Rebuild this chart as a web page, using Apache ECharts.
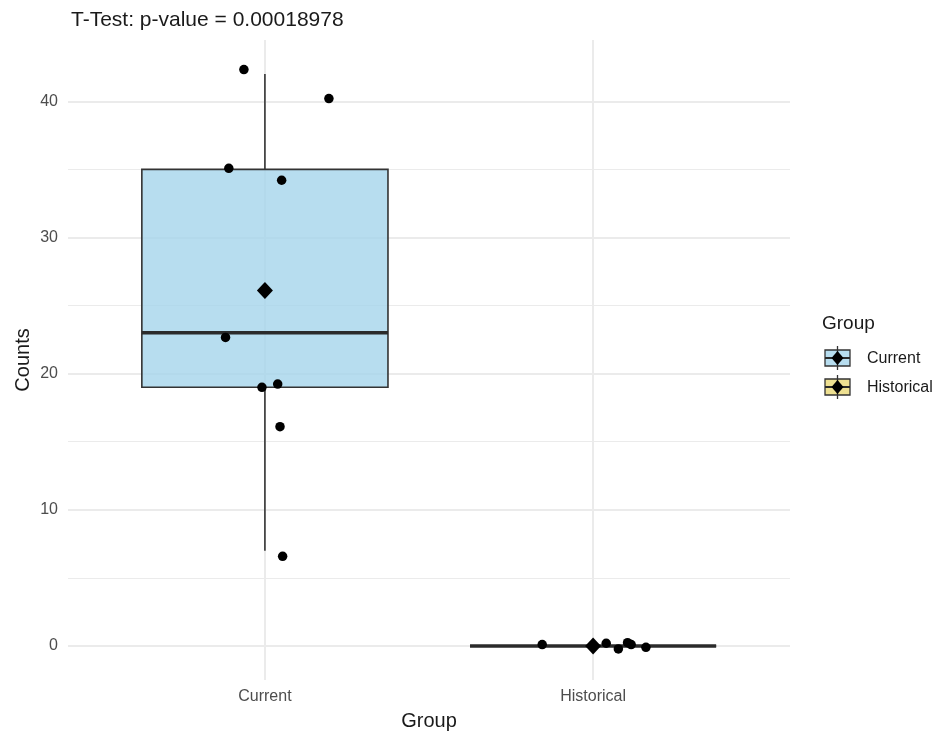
<!DOCTYPE html>
<html>
<head>
<meta charset="utf-8">
<script src="https://cdn.jsdelivr.net/npm/echarts@6/dist/echarts.min.js"></script>
<style>
  html, body { margin: 0; padding: 0; background: #ffffff; }
  #chart { width: 937px; height: 736px; }
</style>
</head>
<body>
<div id="chart"></div>
<script>
// Groups and their positions on the x scale
const groups = ['Current', 'Historical'];
const groupPos = [1, 2];

// Box summaries per group
const boxMin = [7, 0];
const boxQ1 = [19, 0];
const boxMedian = [23, 0];
const boxQ3 = [35, 0];
const boxMax = [42, 0];
const groupMean = [26.1, 0];

// Jittered observations
const currentX = [0.936, 1.195, 0.890, 1.051, 0.880, 0.991, 1.039, 1.046, 1.054];
const currentY = [42.33, 40.2, 35.08, 34.2, 22.66, 18.99, 19.23, 16.1, 6.58];
const historicalX = [1.845, 2.040, 2.077, 2.105, 2.116, 2.161];
const historicalY = [0.10, 0.20, -0.22, 0.24, 0.10, -0.10];

// Minor horizontal grid positions
const yMinor = [5, 15, 25, 35];

const titleText = 'T-Test: p-value = 0.00018978';

// ---- styling ----
const FONT = '"Liberation Sans", Arial, Helvetica, sans-serif';
const boxFill = ['rgba(165,212,235,0.8)', 'rgba(234,216,118,0.8)'];
const GRID_COLOR = '#ebebeb';
const EDGE = '#333333';
const BOX_WIDTH = 0.75;

const boxData = groupPos.map((x, i) => [x, boxMin[i], boxQ1[i], boxMedian[i], boxQ3[i], boxMax[i]]);
const pointData = currentX.map((x, i) => [x, currentY[i]])
  .concat(historicalX.map((x, i) => [x, historicalY[i]]));
const meanData = groupPos.map((x, i) => [x, groupMean[i]]);

function renderBox(params, api) {
  const x = api.value(0);
  const lo = api.value(1), q1 = api.value(2), med = api.value(3), q3 = api.value(4), hi = api.value(5);
  const half = BOX_WIDTH / 2;
  const tl = api.coord([x - half, q3]);
  const br = api.coord([x + half, q1]);
  const mL = api.coord([x - half, med]);
  const mR = api.coord([x + half, med]);
  const pHi = api.coord([x, hi]);
  const pQ3 = api.coord([x, q3]);
  const pQ1 = api.coord([x, q1]);
  const pLo = api.coord([x, lo]);
  const thin = { stroke: EDGE, lineWidth: 1.6 };
  return {
    type: 'group',
    children: [
      { type: 'line', shape: { x1: pHi[0], y1: pHi[1], x2: pQ3[0], y2: pQ3[1] }, style: thin },
      { type: 'line', shape: { x1: pQ1[0], y1: pQ1[1], x2: pLo[0], y2: pLo[1] }, style: thin },
      {
        type: 'rect',
        shape: { x: tl[0], y: tl[1], width: br[0] - tl[0], height: br[1] - tl[1] },
        style: { fill: boxFill[params.dataIndex], stroke: EDGE, lineWidth: 1.6 }
      },
      { type: 'line', shape: { x1: mL[0], y1: mL[1], x2: mR[0], y2: mR[1] }, style: { stroke: '#2b2b2b', lineWidth: 3.4 } }
    ]
  };
}

// Legend keys drawn as miniature boxes
function legendKey(i) {
  const cy = 358 + 29 * i;
  return {
    type: 'group',
    x: 825,
    y: cy,
    children: [
      { type: 'rect', shape: { x: 0, y: -8, width: 25, height: 16 }, style: { fill: boxFill[i], stroke: EDGE, lineWidth: 1.3 } },
      { type: 'line', shape: { x1: 12.5, y1: -12, x2: 12.5, y2: 12 }, style: { stroke: EDGE, lineWidth: 1.3 } },
      { type: 'line', shape: { x1: 0, y1: 0, x2: 25, y2: 0 }, style: { stroke: '#2b2b2b', lineWidth: 2 } },
      { type: 'polygon', shape: { points: [[12.5, -7], [18.5, 0], [12.5, 7], [6.5, 0]] }, style: { fill: '#000' } },
      { type: 'text', x: 42, y: 1, style: { text: groups[i], font: '16px ' + FONT, fill: '#1a1a1a', verticalAlign: 'middle' } }
    ]
  };
}

const chart = echarts.init(document.getElementById('chart'), null, { renderer: 'canvas' });

chart.setOption({
  animation: false,
  backgroundColor: '#ffffff',
  title: {
    text: titleText,
    left: 66,
    top: 5,
    textStyle: { fontFamily: FONT, fontSize: 21, fontWeight: 'normal', color: '#1a1a1a' }
  },
  grid: { left: 68, right: 147, top: 40, bottom: 56, containLabel: false, outerBoundsMode: 'none' },
  xAxis: {
    type: 'value',
    min: 0.4,
    max: 2.6,
    name: 'Group',
    nameLocation: 'middle',
    nameGap: 31,
    nameTextStyle: { fontFamily: FONT, fontSize: 20, color: '#1a1a1a' },
    axisLine: { show: false },
    axisTick: { show: false },
    splitLine: { show: false },
    axisLabel: {
      margin: 9,
      fontFamily: FONT,
      fontSize: 16,
      color: '#4d4d4d',
      formatter: v => {
        const k = groupPos.indexOf(v);
        return k >= 0 ? groups[k] : '';
      }
    }
  },
  yAxis: {
    type: 'value',
    min: -2.5,
    max: 44.5,
    name: 'Counts',
    nameLocation: 'middle',
    nameGap: 35,
    nameMoveOverlap: false,
    nameTextStyle: { fontFamily: FONT, fontSize: 20, color: '#1a1a1a' },
    axisLine: { show: false },
    axisTick: { show: false },
    axisLabel: {
      margin: 10,
      fontFamily: FONT,
      fontSize: 16,
      color: '#4d4d4d',
      showMinLabel: false,
      showMaxLabel: false
    },
    splitLine: { show: true, showMinLine: false, showMaxLine: false, lineStyle: { color: GRID_COLOR, width: 2 } }
  },
  series: [
    {
      type: 'custom',
      name: 'box',
      renderItem: renderBox,
      encode: { x: 0, y: [1, 2, 3, 4, 5] },
      data: boxData,
      z: 2,
      silent: true,
      markLine: {
        silent: true,
        z: 1,
        symbol: 'none',
        label: { show: false },
        emphasis: { disabled: true },
        data: yMinor.map(v => ({ yAxis: v, lineStyle: { color: GRID_COLOR, width: 1.1, type: 'solid' } }))
          .concat(groupPos.map(v => ({ xAxis: v, lineStyle: { color: GRID_COLOR, width: 2, type: 'solid' } })))
      }
    },
    {
      type: 'scatter',
      name: 'points',
      data: pointData,
      symbol: 'circle',
      symbolSize: 9.5,
      itemStyle: { color: '#000000', opacity: 1 },
      z: 3,
      silent: true
    },
    {
      type: 'scatter',
      name: 'mean',
      data: meanData,
      symbol: 'diamond',
      symbolSize: [16, 17],
      itemStyle: { color: '#000000', opacity: 1 },
      z: 4,
      silent: true
    }
  ],
  graphic: [
    { type: 'text', x: 822, y: 324, style: { text: 'Group', font: '19px ' + FONT, fill: '#1a1a1a', verticalAlign: 'middle' } },
    legendKey(0),
    legendKey(1)
  ]
});
</script>
</body>
</html>
